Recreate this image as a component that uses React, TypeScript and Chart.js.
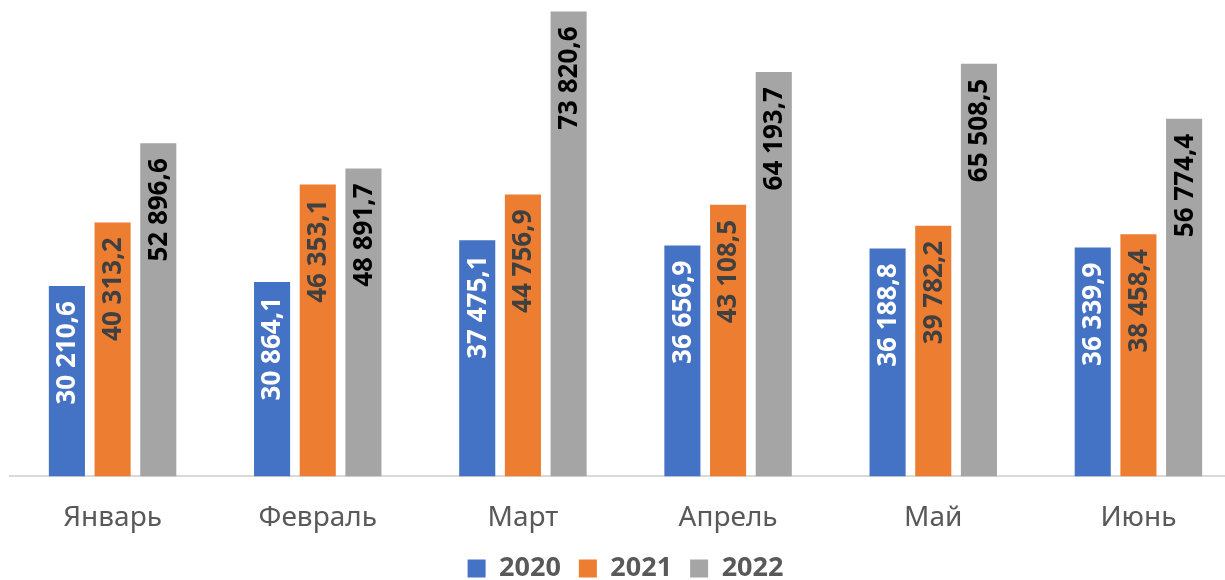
import React, { useEffect, useRef } from "react";
import { Chart, registerables } from "chart.js";

Chart.register(...registerables);

const categories = ["Январь", "Февраль", "Март", "Апрель", "Май", "Июнь"];
const seriesNames = ["2020", "2021", "2022"];
const values2020 = [30210.6, 30864.1, 37475.1, 36656.9, 36188.8, 36339.9];
const values2021 = [40313.2, 46353.1, 44756.9, 43108.5, 39782.2, 38458.4];
const values2022 = [52896.6, 48891.7, 73820.6, 64193.7, 65508.5, 56774.4];
const colors = ["#4472C4", "#ED7D31", "#A5A5A5"];
const labelColors = ["#FFFFFF", "#404040", "#000000"];

const fmt = (v: number) => {
  const [i, d] = v.toFixed(1).split(".");
  const int = i.replace(/\B(?=(\d{3})+(?!\d))/g, " ");
  return int + "," + d;
};

const FONT = "'Noto Sans', 'Open Sans', sans-serif";

const barLabels = {
  id: "barLabels",
  afterDatasetsDraw(chart: any) {
    const ctx = chart.ctx;
    chart.data.datasets.forEach((ds: any, di: number) => {
      const meta = chart.getDatasetMeta(di);
      meta.data.forEach((el: any, i: number) => {
        const v = ds.data[i];
        ctx.save();
        ctx.translate(el.x, el.y + 15);
        ctx.rotate(-Math.PI / 2);
        ctx.font = `bold 26px ${FONT}`;
        ctx.fillStyle = labelColors[di];
        ctx.textAlign = "right";
        ctx.textBaseline = "middle";
        ctx.fillText(fmt(v), 0, 1);
        ctx.restore();
      });
    });
  },
};

export default function App() {
  const ref = useRef<HTMLCanvasElement>(null);
  useEffect(() => {
    document.body.style.margin = "0";
    document.body.style.overflow = "hidden";
    document.documentElement.style.overflow = "hidden";
    const all = [values2020, values2021, values2022];
    const chart = new Chart(ref.current!, {
      type: "bar",
      data: {
        labels: categories,
        datasets: seriesNames.map((n, k) => ({
          label: n,
          data: all[k],
          backgroundColor: colors[k],
          borderWidth: 0,
          categoryPercentage: 0.668,
          barPercentage: 0.79,
        })),
      },
      options: {
        responsive: false,
        animation: false,
        devicePixelRatio: 1,
        layout: { padding: { top: 4, left: 10, right: 0, bottom: -12 } },
        plugins: {
          tooltip: { enabled: false },
          legend: {
            position: "bottom",
            labels: {
              boxWidth: 18,
              boxHeight: 18,
              padding: 18,
              color: "#595959",
              font: { family: FONT, size: 27, weight: "bold" },
            },
          },
        },
        scales: {
          x: {
            grid: { display: false, drawTicks: false },
            border: { color: "#D9D9D9", width: 2 },
            ticks: {
              color: "#595959",
              padding: 25,
              font: { family: FONT, size: 28 },
            },
            afterFit: (scale: any) => {
              scale.height = scale.height - 23;
            },
          },
          y: {
            display: false,
            min: 0,
            max: 75000,
          },
        },
      },
      plugins: [barLabels],
    });
    return () => chart.destroy();
  }, []);
  return (
    <div style={{ width: 1225, height: 580, overflow: "hidden" }}>
      <canvas ref={ref} width={1241} height={580} style={{ width: 1241, height: 580, display: "block" }} />
    </div>
  );
}
